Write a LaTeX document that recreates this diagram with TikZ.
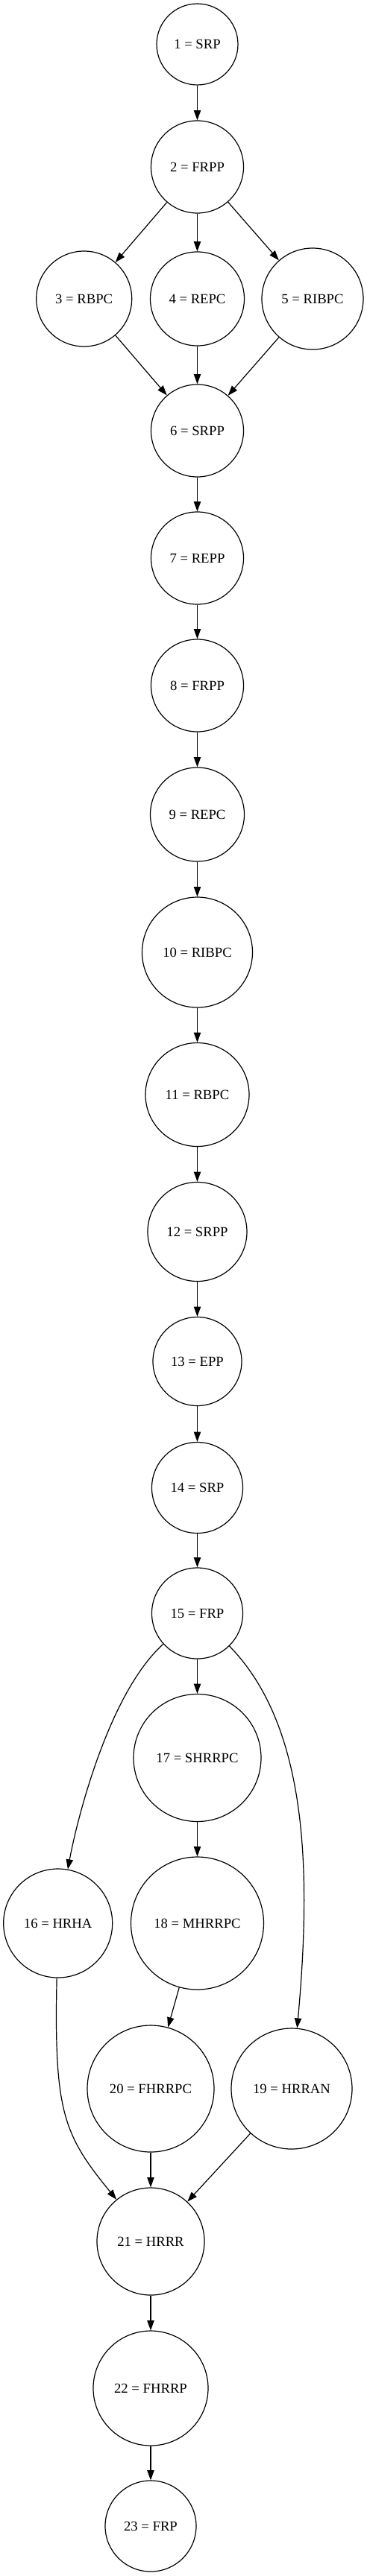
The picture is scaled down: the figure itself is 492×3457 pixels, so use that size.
\documentclass[tikz,border=0pt]{standalone}
\usepackage{fontspec}
\setmainfont{Liberation Serif}
\usetikzlibrary{arrows.meta}
\begin{document}
\begin{tikzpicture}[x=0.75pt,y=-0.75pt,
    state/.style={circle,draw,line width=0.9pt,inner sep=0pt,font=\fontsize{14}{16}\selectfont},
    >={Triangle[length=10pt,width=7pt]}]
  \useasboundingbox (0,0) rectangle (492,3457);
  \draw
    (264.5,59.5) node[state,minimum size=81.75pt] (1){1 = SRP}
    (264.5,224) node[state,minimum size=93pt] (2){2 = FRPP}
    (112.7,401) node[state,minimum size=96pt] (3){3 = RBPC}
    (264.5,401) node[state,minimum size=94.5pt] (4){4 = REPC}
    (419,401) node[state,minimum size=102pt] (5){5 = RIBPC}
    (264.5,578) node[state,minimum size=93pt] (6){6 = SRPP}
    (264.5,749) node[state,minimum size=93pt] (7){7 = REPP}
    (264.5,920) node[state,minimum size=93pt] (8){8 = FRPP}
    (264.5,1093) node[state,minimum size=94.5pt] (9){9 = REPC}
    (264.5,1278) node[state,minimum size=111pt] (10){10 = RIBPC}
    (264.5,1469) node[state,minimum size=104.25pt] (11){11 = RBPC}
    (264.5,1653) node[state,minimum size=99.75pt] (12){12 = SRPP}
    (264.5,1827) node[state,minimum size=89.25pt] (13){13 = EPP}
    (264.5,1996.5) node[state,minimum size=91.5pt] (14){14 = SRP}
    (264.5,2165) node[state,minimum size=91.5pt] (15){15 = FRP}
    (77.7,2581) node[state,minimum size=109.5pt] (16){16 = HRHA}
    (264.5,2359) node[state,minimum size=128.25pt] (17){17 = SHRRPC}
    (264.5,2581) node[state,minimum size=133.5pt] (18){18 = MHRRPC}
    (391,2803) node[state,minimum size=121.5pt] (19){19 = HRRAN}
    (202,2803) node[state,minimum size=127.5pt] (20){20 = FHRRPC}
    (202,3008) node[state,minimum size=108pt] (21){21 = HRRR}
    (202,3205) node[state,minimum size=115.5pt] (22){22 = FHRRP}
    (202,3390) node[state,minimum size=91.5pt] (23){23 = FRP};
  \begin{scope}[->,line width=0.9pt]
    \draw (1) to (2);
    \draw (2) to (3);
    \draw (2) to (4);
    \draw (2) to (5);
    \draw (3) to (6);
    \draw (4) to (6);
    \draw (5) to (6);
    \draw (6) to (7);
    \draw (7) to (8);
    \draw (8) to (9);
    \draw (9) to (10);
    \draw (10) to (11);
    \draw (11) to (12);
    \draw (12) to (13);
    \draw (13) to (14);
    \draw (14) to (15);
    \draw (15) .. controls (144,2274) and (102,2448) .. (16);
    \draw (15) to (17);
    \draw (15) .. controls (416,2320) and (416.4,2522.4) .. (19);
    \draw (17) to (18);
    \draw (18) to (20);
    \draw (16) .. controls (72.3,2834.5) and (85,2864.5) .. (21);
    \draw (20) to (21);
    \draw (19) to (21);
    \draw (21) to (22);
    \draw (22) to (23);
  \end{scope}
\end{tikzpicture}
\end{document}
